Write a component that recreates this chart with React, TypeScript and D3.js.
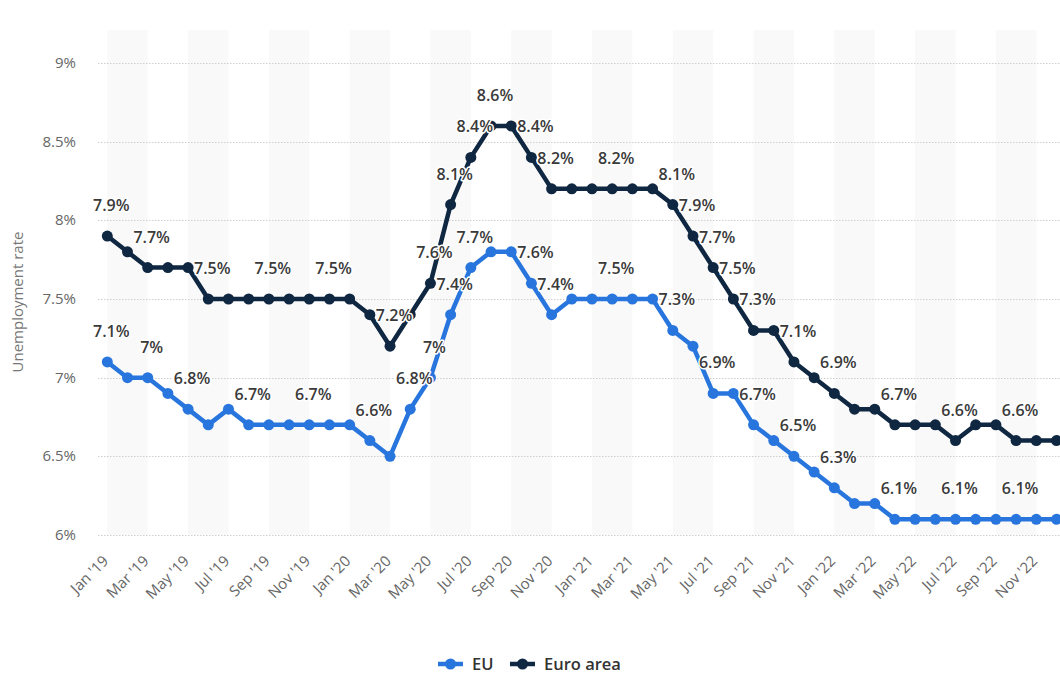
import React, { useRef, useEffect } from 'react';
import * as d3 from 'd3';

// monthly categories, Jan '19 .. Dec '22
const categories = [
  "Jan '19", "Feb '19", "Mar '19", "Apr '19", "May '19", "Jun '19", "Jul '19", "Aug '19", "Sep '19", "Oct '19", "Nov '19", "Dec '19",
  "Jan '20", "Feb '20", "Mar '20", "Apr '20", "May '20", "Jun '20", "Jul '20", "Aug '20", "Sep '20", "Oct '20", "Nov '20", "Dec '20",
  "Jan '21", "Feb '21", "Mar '21", "Apr '21", "May '21", "Jun '21", "Jul '21", "Aug '21", "Sep '21", "Oct '21", "Nov '21", "Dec '21",
  "Jan '22", "Feb '22", "Mar '22", "Apr '22", "May '22", "Jun '22", "Jul '22", "Aug '22", "Sep '22", "Oct '22", "Nov '22", "Dec '22",
];

const euValues = [
  7.1, 7.0, 7.0, 6.9, 6.8, 6.7, 6.8, 6.7, 6.7, 6.7, 6.7, 6.7,
  6.7, 6.6, 6.5, 6.8, 7.0, 7.4, 7.7, 7.8, 7.8, 7.6, 7.4, 7.5,
  7.5, 7.5, 7.5, 7.5, 7.3, 7.2, 6.9, 6.9, 6.7, 6.6, 6.5, 6.4,
  6.3, 6.2, 6.2, 6.1, 6.1, 6.1, 6.1, 6.1, 6.1, 6.1, 6.1, 6.1,
];

const euroAreaValues = [
  7.9, 7.8, 7.7, 7.7, 7.7, 7.5, 7.5, 7.5, 7.5, 7.5, 7.5, 7.5,
  7.5, 7.4, 7.2, 7.4, 7.6, 8.1, 8.4, 8.6, 8.6, 8.4, 8.2, 8.2,
  8.2, 8.2, 8.2, 8.2, 8.1, 7.9, 7.7, 7.5, 7.3, 7.3, 7.1, 7.0,
  6.9, 6.8, 6.8, 6.7, 6.7, 6.7, 6.6, 6.7, 6.7, 6.6, 6.6, 6.6,
];

// points whose data label is visible (the others are hidden by overlap)
const euLabelIdx = [0, 2, 4, 7, 10, 13, 15, 16, 17, 18, 21, 22, 25, 28, 30, 32, 34, 36, 39, 42, 45];
const euroLabelIdx = [0, 2, 5, 8, 11, 14, 16, 17, 18, 19, 21, 22, 25, 28, 29, 30, 31, 32, 34, 36, 39, 42, 45];

const yTicks = [6, 6.5, 7, 7.5, 8, 8.5, 9];

const series = [
  { name: 'EU', values: euValues, labels: euLabelIdx, color: '#2876dd' },
  { name: 'Euro area', values: euroAreaValues, labels: euroLabelIdx, color: '#0f2741' },
];

const W = 1060;
const H = 674;
const FONT = "'Open Sans', 'DejaVu Sans', sans-serif";

const fmt = (v: number) => `${+v.toFixed(1)}%`;

export default function App() {
  const svgRef = useRef<SVGSVGElement>(null);

  useEffect(() => {
    const svg = d3.select(svgRef.current);
    svg.selectAll('*').remove();

    const plotLeft = 98;
    const plotTop = 30;
    const x = d3.scaleLinear().domain([0, categories.length - 1]).range([107.3, 1056.5]);
    const y = d3.scaleLinear().domain([6, 9]).range([535, 63]);
    const step = x(1) - x(0);

    // alternating bands, two months wide
    const bandStarts = d3.range(0, categories.length, 4);
    svg.append('g')
      .selectAll('rect')
      .data(bandStarts)
      .enter()
      .append('rect')
      .attr('x', d => x(d))
      .attr('y', plotTop)
      .attr('width', step * 2)
      .attr('height', y(6) - plotTop)
      .attr('fill', '#f9f9f9');

    // grid
    svg.append('g')
      .selectAll('line')
      .data(yTicks)
      .enter()
      .append('line')
      .attr('x1', plotLeft)
      .attr('x2', W)
      .attr('y1', d => Math.round(y(d)) + 0.5)
      .attr('y2', d => Math.round(y(d)) + 0.5)
      .attr('stroke', '#cfcfcf')
      .attr('stroke-width', 1)
      .attr('stroke-dasharray', '1.5,1.5');

    // y tick labels
    svg.append('g')
      .selectAll('text')
      .data(yTicks)
      .enter()
      .append('text')
      .attr('x', 76)
      .attr('y', d => y(d) + 5)
      .attr('text-anchor', 'end')
      .attr('font-family', FONT)
      .attr('font-size', 15)
      .attr('fill', '#666')
      .text(d => `${d}%`);

    // y axis title
    svg.append('text')
      .attr('transform', `translate(23,${(y(6) + y(9)) / 2 + 3}) rotate(-90)`)
      .attr('text-anchor', 'middle')
      .attr('font-family', FONT)
      .attr('font-size', 15)
      .attr('fill', '#777')
      .text('Unemployment rate');

    // x tick labels, every second month
    const xTickIdx = d3.range(0, categories.length, 2);
    svg.append('g')
      .selectAll('text')
      .data(xTickIdx)
      .enter()
      .append('text')
      .attr('transform', d => `translate(${x(d) + 2},562) rotate(-45)`)
      .attr('text-anchor', 'end')
      .attr('font-family', FONT)
      .attr('font-size', 15)
      .attr('fill', '#666')
      .text(d => categories[d]);

    const line = d3.line<number>()
      .x((_, i) => x(i))
      .y(d => y(d));

    series.forEach(s => {
      const g = svg.append('g');
      g.append('path')
        .datum(s.values)
        .attr('fill', 'none')
        .attr('stroke', s.color)
        .attr('stroke-width', 4.5)
        .attr('stroke-linejoin', 'round')
        .attr('d', line);
      g.selectAll('circle')
        .data(s.values)
        .enter()
        .append('circle')
        .attr('cx', (_, i) => x(i))
        .attr('cy', d => y(d))
        .attr('r', 5.5)
        .attr('fill', s.color);
    });

    // data labels
    series.forEach(s => {
      svg.append('g')
        .selectAll('text')
        .data(s.labels)
        .enter()
        .append('text')
        .attr('x', i => x(i) + 4)
        .attr('y', i => y(s.values[i]) - 25)
        .attr('text-anchor', 'middle')
        .attr('font-family', FONT)
        .attr('font-size', 16)
        .attr('font-weight', 600)
        .attr('fill', '#3a3a3a')
        .attr('stroke', '#fff')
        .attr('stroke-width', 3)
        .attr('stroke-linejoin', 'round')
        .attr('paint-order', 'stroke')
        .text(i => fmt(s.values[i]));
    });

    // legend
    const legendY = 664;
    const legend = svg.append('g');
    const items = [
      { s: series[0], x: 438 },
      { s: series[1], x: 510 },
    ];
    items.forEach(({ s, x: lx }) => {
      legend.append('line')
        .attr('x1', lx).attr('x2', lx + 25)
        .attr('y1', legendY).attr('y2', legendY)
        .attr('stroke', s.color)
        .attr('stroke-width', 4.5);
      legend.append('circle')
        .attr('cx', lx + 12.5).attr('cy', legendY)
        .attr('r', 5.5)
        .attr('fill', s.color);
      legend.append('text')
        .attr('x', lx + 34)
        .attr('y', legendY + 6)
        .attr('font-family', FONT)
        .attr('font-size', 16.5)
        .attr('font-weight', 600)
        .attr('fill', '#333')
        .text(s.name);
    });
  }, []);

  return (
    <svg
      ref={svgRef}
      width={W}
      height={H}
      style={{ position: 'absolute', left: 0, top: 0, background: '#fff' }}
    />
  );
}
